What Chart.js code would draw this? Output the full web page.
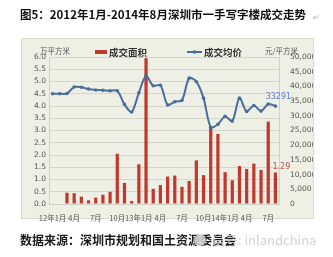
<!DOCTYPE html>
<html lang="zh">
<head>
    <meta charset="UTF-8">
    <title>深圳市一手写字楼成交走势</title>
    <script src="https://cdn.jsdelivr.net/npm/chart.js"></script>
    <style>
        html, body { margin: 0; padding: 0; background: #fff; }
        #wrap { width: 333px; height: 257px; }
    </style>
</head>
<body>
    <div id="wrap"><canvas id="officeChart" width="333" height="257"></canvas></div>

    <script>
        // 月份（2012年1月 - 2014年8月）
        const months = [
            '12年1月', '2月', '3月', '4月', '5月', '6月', '7月', '8月', '9月', '10月', '11月', '12月',
            '13年1月', '2月', '3月', '4月', '5月', '6月', '7月', '8月', '9月', '10月', '11月', '12月',
            '14年1月', '2月', '3月', '4月', '5月', '6月', '7月', '8月'
        ];
        // 成交面积（万平方米）
        const areaValues = [
            null, null, 0.46, 0.44, 0.30, 0.15, 0.26, 0.38, 0.50, 2.05, 0.86, 0.12,
            1.62, 5.95, 0.62, 0.77, 1.12, 1.16, 0.70, 0.94, 1.78, 1.18, 3.15, 2.86,
            1.30, 0.97, 1.55, 1.43, 1.65, 1.39, 3.36, 1.29
        ];
        // 成交均价（元/平方米）
        const priceValues = [
            37500, 37500, 37600, 39800, 39700, 39100, 38800, 38700, 38500, 38500, 33900, 31300,
            37800, 43600, 40200, 40400, 33700, 34800, 35300, 42800, 41600, 36000, 26100, 27100,
            29800, 28200, 36000, 31500, 33500, 31600, 34000, 33291
        ];
        // 只显示这些位置的月份标签
        const shownTicks = [0, 3, 6, 9, 12, 15, 18, 21, 24, 27, 30];

        const cjk = '"Noto Sans CJK SC", "Noto Sans", sans-serif';

        // 背景框、标题、图例、数据来源等
        const decorations = {
            id: 'decorations',
            beforeDraw(chart) {
                const c = chart.ctx;
                c.save();
                c.fillStyle = '#ffffff';
                c.fillRect(0, 0, chart.width, chart.height);
                c.fillStyle = '#eef0e5';
                c.fillRect(21, 38, 293, 181);
                c.strokeStyle = '#d9dccd';
                c.lineWidth = 1;
                c.strokeRect(21.5, 38.5, 292, 180);
                c.restore();
            },
            afterDraw(chart) {
                const c = chart.ctx;
                c.save();
                c.textBaseline = 'middle';

                // 标题
                c.fillStyle = '#111';
                c.font = 'bold 11.5px ' + cjk;
                c.textAlign = 'left';
                c.fillText('图5：2012年1月-2014年8月深圳市一手写字楼成交走势', 20, 15);
                c.fillStyle = '#aaa';
                c.font = '8px ' + cjk;
                c.fillText('↵', 313, 17);

                // 轴标题
                c.fillStyle = '#555';
                c.font = '7.5px ' + cjk;
                c.fillText('万平方米', 40, 51);
                c.fillText('元/平方米', 265, 51);

                // 图例
                c.fillStyle = '#c0392f';
                c.fillRect(95, 50, 12, 4);
                c.fillStyle = '#333';
                c.font = 'bold 9.5px ' + cjk;
                c.fillText('成交面积', 109, 52);
                c.strokeStyle = '#4a6d9c';
                c.lineWidth = 2;
                c.beginPath();
                c.moveTo(187, 52);
                c.lineTo(202, 52);
                c.stroke();
                c.fillStyle = '#4a6d9c';
                c.beginPath();
                c.arc(194.5, 52, 1.8, 0, Math.PI * 2);
                c.fill();
                c.fillStyle = '#333';
                c.fillText('成交均价', 204, 52);

                // 末点数据标签
                const last = months.length - 1;
                const xs = chart.scales.x;
                const px = xs.getPixelForValue(last);
                c.font = '8px "DejaVu Sans", sans-serif';
                c.textAlign = 'center';
                c.fillStyle = '#6677cc';
                c.fillText(String(priceValues[last]), px + 3, chart.scales.y1.getPixelForValue(priceValues[last]) - 9);
                c.fillStyle = '#b25548';
                c.textAlign = 'left';
                c.fillText(areaValues[last].toFixed(2), px - 3, chart.scales.y.getPixelForValue(areaValues[last]) - 5);

                // 数据来源
                c.textAlign = 'left';
                c.fillStyle = '#1a1a1a';
                c.font = 'bold 12px ' + cjk;
                c.fillText('数据来源：深圳市规划和国土资源委员会', 20, 240);
                c.fillStyle = 'rgba(205,205,205,0.9)';
                c.beginPath();
                c.arc(200, 240, 6, 0, Math.PI * 2);
                c.fill();
                c.font = '13px ' + cjk;
                c.fillText('信号: inlandchina', 212, 240);
                c.restore();
            }
        };

        const ctx = document.getElementById('officeChart').getContext('2d');
        const officeChart = new Chart(ctx, {
            data: {
                labels: months,
                datasets: [
                    {
                        type: 'line',
                        label: '成交均价',
                        data: priceValues,
                        yAxisID: 'y1',
                        borderColor: '#4a6d9c',
                        backgroundColor: '#4a6d9c',
                        borderWidth: 2,
                        pointRadius: 1.8,
                        pointBorderWidth: 0,
                        tension: 0.3,
                        order: 0
                    },
                    {
                        type: 'bar',
                        label: '成交面积',
                        data: areaValues,
                        yAxisID: 'y',
                        backgroundColor: '#c0392f',
                        barPercentage: 0.45,
                        categoryPercentage: 1,
                        order: 1
                    }
                ]
            },
            plugins: [decorations],
            options: {
                responsive: false,
                animation: false,
                layout: { padding: { left: 22, right: 20, top: 57, bottom: 32 } },
                plugins: {
                    legend: { display: false },
                    tooltip: { enabled: false }
                },
                scales: {
                    x: {
                        grid: { display: false },
                        border: { color: '#cfd2c4' },
                        ticks: {
                            autoSkip: false,
                            maxRotation: 0,
                            padding: 2,
                            color: '#555',
                            font: { size: 7.5, family: cjk },
                            callback: (v, i) => shownTicks.includes(i) ? months[i] : ''
                        }
                    },
                    y: {
                        position: 'left',
                        min: 0,
                        max: 6,
                        afterFit: s => { s.width = 27; },
                        ticks: {
                            stepSize: 0.5,
                            padding: 3,
                            color: '#555',
                            font: { size: 7.5, family: '"DejaVu Sans", sans-serif' },
                            callback: v => v.toFixed(1)
                        },
                        grid: { color: '#d4d7c9', drawTicks: false },
                        border: { color: '#cfd2c4' }
                    },
                    y1: {
                        position: 'right',
                        min: 0,
                        max: 50000,
                        afterFit: s => { s.width = 34; },
                        ticks: {
                            stepSize: 5000,
                            padding: 3,
                            color: '#555',
                            font: { size: 7.5, family: '"DejaVu Sans", sans-serif' }
                        },
                        grid: { display: false },
                        border: { color: '#cfd2c4' }
                    }
                }
            }
        });
    </script>
</body>
</html>
